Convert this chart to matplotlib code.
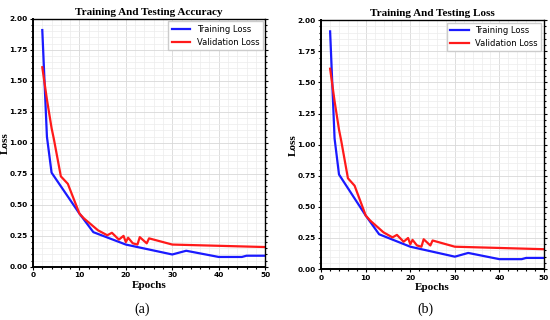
import numpy as np
import matplotlib
matplotlib.use("Agg")
import matplotlib.pyplot as plt
from matplotlib.ticker import MultipleLocator

# datos
epocasEntrenamiento = [2, 3, 4, 10, 13, 20, 30, 33, 40, 45, 46, 50]
perdidaEntrenamiento = [1.91, 1.05, 0.76, 0.43, 0.28, 0.18, 0.10, 0.13, 0.08, 0.08, 0.09, 0.09]

epocasValidacion = [2, 3, 4, 4.5, 5, 6, 7, 7.5, 10, 11, 14, 16, 17, 18.5, 19.5, 20,
                    20.5, 21.5, 22.5, 23, 24.5, 25, 30, 50]
perdidaValidacion = [1.61, 1.35, 1.12, 1.03, 0.93, 0.73, 0.69, 0.67, 0.43, 0.39, 0.295,
                     0.255, 0.275, 0.22, 0.25, 0.20, 0.235, 0.19, 0.18, 0.24, 0.19, 0.23,
                     0.18, 0.16]

titulos = ["Training And Testing Accuracy", "Training And Testing Loss"]
etiquetas = ["(a)", "(b)"]
posiciones = [[0.060, 0.166, 0.422, 0.775], [0.584, 0.159, 0.405, 0.778]]
posLoss = [-0.102, -0.105]

serif = ["Liberation Serif", "DejaVu Serif"]
narrow = ["Liberation Sans Narrow", "DejaVu Sans"]

fig = plt.figure(figsize=(5.5, 3.2), dpi=100)

for i in range(2):
    ax = fig.add_axes(posiciones[i])
    ax.plot(epocasEntrenamiento, perdidaEntrenamiento, color="#1a1aff", lw=1.6, label="Training Loss")
    ax.plot(epocasValidacion, perdidaValidacion, color="#ff1a1a", lw=1.6, label="Validation Loss")
    ax.set_xlim(0, 50)
    ax.set_ylim(0, 2.0)
    ax.xaxis.set_major_locator(MultipleLocator(10))
    ax.xaxis.set_minor_locator(MultipleLocator(2))
    ax.yaxis.set_major_locator(MultipleLocator(0.25))
    ax.yaxis.set_minor_locator(MultipleLocator(0.05))
    ax.grid(which="major", color="#d8d8d8", lw=0.6)
    ax.grid(which="minor", color="#ececec", lw=0.5)
    ax.tick_params(which="both", right=True, labelsize=5.3, width=0.8, length=2.5, pad=1.5)
    ax.tick_params(which="minor", length=1.5)
    for lab in ax.get_xticklabels() + ax.get_yticklabels():
        lab.set_family(narrow)
        lab.set_fontweight("bold")
    for s in ax.spines.values():
        s.set_linewidth(1.0)
    ax.spines["left"].set_linewidth(1.4)
    ax.spines["bottom"].set_linewidth(1.4)
    ax.set_title(titulos[i], fontsize=8, fontweight="bold", family=serif, pad=3)
    ax.set_xlabel("Epochs", fontsize=8, fontweight="bold", family=serif, labelpad=2)
    ax.set_ylabel("Loss", fontsize=8, fontweight="bold", family=serif)
    ax.yaxis.set_label_coords(posLoss[i], 0.5)
    leg = ax.legend(loc="upper right", prop={"family": narrow, "size": 6}, handlelength=2.2,
                    borderaxespad=0.3, fancybox=False, framealpha=1)
    leg.get_frame().set_edgecolor("#cccccc")
    fig.text(posiciones[i][0] + posiciones[i][2] * 0.47, 0.035, etiquetas[i],
             ha="center", va="center", fontsize=10, family=serif)

fig.savefig("out.png", dpi=100)
